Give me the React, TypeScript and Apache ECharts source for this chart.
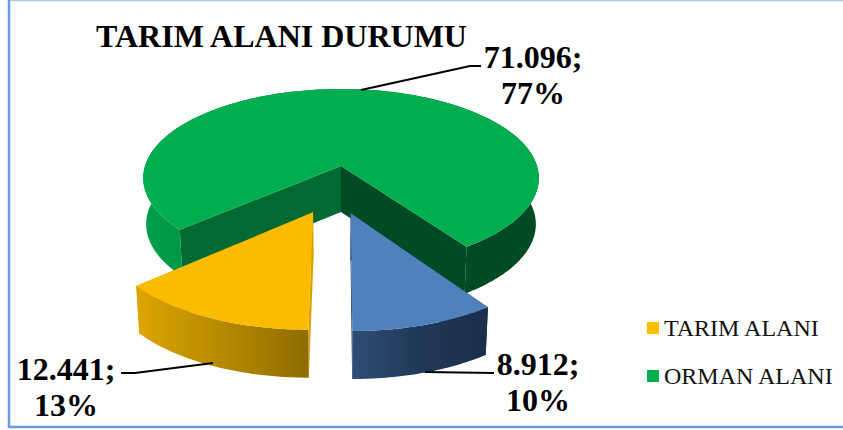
import React, { useEffect, useRef } from "react";
import * as echarts from "echarts";

const categories = ["TARIM ALANI", "ORMAN ALANI", "DİĞER"];
const values = [12441, 71096, 8912];
const valueLabels = ["12.441", "71.096", "8.912"];
const percentLabels = ["13%", "77%", "10%"];
const legendNames = ["TARIM ALANI", "ORMAN ALANI"];
const titleText = "TARIM ALANI DURUMU";

const topColors = ["#FBBC00", "#00AE4F", "#4F81BD"];
const legendColors = ["#FFC000", "#00B050", "#4F81BD"];
const FONT = '"Liberation Serif", "Times New Roman", serif';

// Perspective projection of the flat pie
const CX = 341, CY = 166, RX = 196, RY = 87.4, K = 0.135, DEPTH = 46, BASE_SCALE = 0.985;
const START_DEG = 180;
const explode = [[-0.133, 0.495], [0, 0], [0.046, 0.505]];
const total = values.reduce((a, b) => a + b, 0);

const project = (X: number, Y: number): [number, number] => {
  const w = 1 - K * Y;
  return [CX + (RX * X) / w, CY + (RY * Y) / w];
};
const down = (p: [number, number]): [number, number] => [
  CX + (p[0] - CX) * BASE_SCALE,
  p[1] + DEPTH + (p[1] - CY) * 0.012,
];

const grad = (stops: [number, string][]) =>
  new echarts.graphic.LinearGradient(0, 0, 1, 0, stops.map(([offset, color]) => ({ offset, color })));

const wallFill = [
  () => grad([[0, "#DCA600"], [0.5, "#B58900"], [1, "#8F6C00"]]),
  () => grad([[0, "#00A04A"], [0.1, "#009646"], [0.4, "#006A32"], [0.6, "#004A25"], [1, "#004A25"]]),
  () => grad([[0, "#2E4D74"], [0.5, "#203858"], [1, "#1B2E4C"]]),
];
const cutFill = [["#D9A200", "#D9A200"], ["#006A32", "#004A25"], ["#1E3350", "#1E3350"]];

const angleRange = (idx: number): [number, number] => {
  let a = START_DEG;
  for (let i = 0; i < idx; i++) a += (values[i] / total) * 360;
  return [a, a + (values[idx] / total) * 360];
};

const renderSlice = (idx: number) => () => {
  const [a0, a1] = angleRange(idx);
  const [ox, oy] = explode[idx];
  const rim: [number, number][] = [];
  const steps = Math.ceil(a1 - a0);
  for (let i = 0; i <= steps; i++) {
    const t = ((a0 + ((a1 - a0) * i) / steps) * Math.PI) / 180;
    rim.push(project(ox + Math.sin(t), oy - Math.cos(t)));
  }
  const apex = project(ox, oy);
  const poly = (points: [number, number][], fill: any) => ({
    type: "polygon",
    shape: { points },
    style: { fill, stroke: null },
  });
  const first = rim[0];
  const last = rim[rim.length - 1];
  return {
    type: "group",
    children: [
      poly([apex, first, down(first), down(apex)], cutFill[idx][0]),
      poly([apex, last, down(last), down(apex)], cutFill[idx][1]),
      poly([...rim, ...rim.map(down).reverse()], wallFill[idx]()),
      poly([apex, ...rim], topColors[idx]),
    ],
  };
};

const drawOrder = [1, 0, 2];

const labelText = (i: number) => `${valueLabels[i]};\n${percentLabels[i]}`;
const labelPlaces: Record<number, [number, number]> = { 1: [533, 75], 0: [66, 387], 2: [538, 382] };
const leaders: [number, number][][] = [
  [[213, 363], [135, 373], [121, 373]],
  [[361, 90], [470, 66], [481, 66]],
  [[425, 372], [494, 373]],
];
const frameLines: { points: [number, number][]; color: string; width: number }[] = [
  { points: [[8, 0.5], [843, 0.5]], color: "#A9C9F0", width: 1.5 },
  { points: [[9, 0], [9, 428]], color: "#6A9BDF", width: 2.5 },
  { points: [[8, 427], [843, 427]], color: "#6A9BDF", width: 2.5 },
];

export default function App() {
  const ref = useRef<HTMLDivElement>(null);
  useEffect(() => {
    const chart = echarts.init(ref.current!, null, { renderer: "svg" });
    chart.setOption({
      animation: false,
      backgroundColor: "#fff",
      title: {
        text: titleText,
        left: 91,
        top: 15,
        textStyle: { fontFamily: FONT, fontSize: 32, fontWeight: "bold", color: "#000" },
      },
      legend: {
        data: legendNames,
        orient: "vertical",
        left: 647,
        top: 316,
        itemWidth: 12,
        itemHeight: 12,
        itemGap: 24,
        padding: 0,
        icon: "rect",
        textStyle: { fontFamily: FONT, fontSize: 24, color: "#111", padding: [0, 0, 0, 0] },
        selectedMode: false,
      },
      series: drawOrder.map((idx) => ({
        type: "custom",
        name: categories[idx],
        coordinateSystem: "none",
        silent: true,
        clip: false,
        itemStyle: { color: legendColors[idx] },
        data: [values[idx]],
        renderItem: renderSlice(idx),
      })),
      graphic: [
        ...frameLines.map((l) => ({
          type: "polyline",
          z: 20,
          shape: { points: l.points },
          style: { fill: "none", stroke: l.color, lineWidth: l.width },
        })),
        ...leaders.map((points) => ({
          type: "polyline",
          z: 20,
          shape: { points },
          style: { fill: "none", stroke: "#000", lineWidth: 2 },
        })),
        ...[0, 1, 2].map((i) => ({
          type: "text",
          z: 20,
          x: labelPlaces[i][0],
          y: labelPlaces[i][1],
          style: {
            text: labelText(i),
            fontFamily: FONT,
            fontSize: 32,
            fontWeight: "bold",
            lineHeight: 36,
            fill: "#000",
            align: "center",
            verticalAlign: "middle",
          },
        })),
      ],
    });
    return () => chart.dispose();
  }, []);
  return <div ref={ref} style={{ position: "fixed", left: 0, top: 0, width: 843, height: 430 }} />;
}
